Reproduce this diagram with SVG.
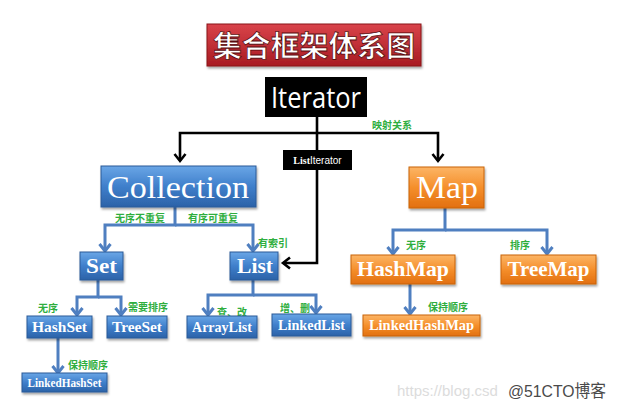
<svg xmlns="http://www.w3.org/2000/svg" width="617" height="410" viewBox="0 0 617 410">
<defs>
<linearGradient id="gBlue" x1="0" y1="0" x2="0" y2="1">
<stop offset="0" stop-color="#6aa6e6"/><stop offset="0.5" stop-color="#3f7fcb"/><stop offset="1" stop-color="#2b62a8"/>
</linearGradient>
<linearGradient id="gOrange" x1="0" y1="0" x2="0" y2="1">
<stop offset="0" stop-color="#fcb565"/><stop offset="0.5" stop-color="#f58f2c"/><stop offset="1" stop-color="#e2700f"/>
</linearGradient>
<linearGradient id="gRed" x1="0" y1="0" x2="0" y2="1">
<stop offset="0" stop-color="#d9434a"/><stop offset="1" stop-color="#a81b22"/>
</linearGradient>
<filter id="sh" x="-10%" y="-20%" width="120%" height="150%">
<feDropShadow dx="1" dy="2" stdDeviation="1.2" flood-color="#000" flood-opacity="0.35"/>
</filter>
<marker id="ak" markerUnits="userSpaceOnUse" markerWidth="14" markerHeight="14" viewBox="0 0 14 14" refX="11" refY="7" orient="auto">
<path d="M4,1.5 L11,7 L4,12.5" fill="none" stroke="#000" stroke-width="2.6"/>
</marker>
<marker id="ab" markerUnits="userSpaceOnUse" markerWidth="14" markerHeight="14" viewBox="0 0 14 14" refX="11" refY="7" orient="auto">
<path d="M4,1.5 L11,7 L4,12.5" fill="none" stroke="#4f7fc0" stroke-width="3"/>
</marker>
</defs>
<style>
.blue{fill:url(#gBlue);stroke:#2a5a98;stroke-width:1;filter:url(#sh)}
.orange{fill:url(#gOrange);stroke:#c9630c;stroke-width:1;filter:url(#sh)}
.nl{fill:#fff;font-family:"Liberation Serif","DejaVu Serif",serif;text-anchor:middle}
.b{font-weight:bold}
.g{fill:#2fae3e;font-family:"Noto Sans CJK SC",sans-serif;font-weight:bold;font-size:10px}
.kl{fill:none;stroke:#000;stroke-width:2.6}
.bl{fill:none;stroke:#4f7fc0;stroke-width:3}
</style>
<rect width="617" height="410" fill="#fff"/>

<g id="title">
<rect x="207" y="24" width="214" height="42" fill="url(#gRed)" stroke="#8a1418" filter="url(#sh)"/>
<text x="314" y="57" font-family="Noto Sans CJK SC,sans-serif" font-weight="bold" font-size="29" fill="#fff" stroke="#5a0b0e" stroke-width="0.8" text-anchor="middle" textLength="202" lengthAdjust="spacingAndGlyphs">集合框架体系图</text>
</g>

<g id="connectors">
<path class="kl" d="M317,117 V263 H283" marker-end="url(#ak)"/>
<path class="kl" d="M317,133 H180 V161" marker-end="url(#ak)"/>
<path class="kl" d="M317,133 H438 V161" marker-end="url(#ak)"/>
<path class="bl" d="M175,207 V225 H105 V251" marker-end="url(#ab)"/>
<path class="bl" d="M175,225 H253 V251" marker-end="url(#ab)"/>
<path class="bl" d="M98,280 V297 H77 V315" marker-end="url(#ab)"/>
<path class="bl" d="M98,297 H121 V315" marker-end="url(#ab)"/>
<path class="bl" d="M58,338 V373" marker-end="url(#ab)"/>
<path class="bl" d="M253,280 V295 H208 V315" marker-end="url(#ab)"/>
<path class="bl" d="M253,295 H316 V313" marker-end="url(#ab)"/>
<path class="bl" d="M445,208 V230 H393 V254" marker-end="url(#ab)"/>
<path class="bl" d="M445,230 H547 V254" marker-end="url(#ab)"/>
<path class="bl" d="M410,284 V314" marker-end="url(#ab)"/>
<text class="g" x="372" y="129">映射关系</text>
<text class="g" x="115" y="222">无序不重复</text>
<text class="g" x="188" y="222">有序可重复</text>
<text class="g" x="258" y="247">有索引</text>
<text class="g" x="38" y="312">无序</text>
<text class="g" x="128" y="311">需要排序</text>
<text class="g" x="68" y="369">保持顺序</text>
<text class="g" x="217" y="316">查、改</text>
<text class="g" x="280" y="312">增、删</text>
<text class="g" x="406" y="249">无序</text>
<text class="g" x="510" y="249">排序</text>
<text class="g" x="428" y="311">保持顺序</text>
</g>

<g id="iterator">
<rect x="265" y="77" width="102" height="40" fill="#000"/>
<text x="316" y="108" font-family="Open Sans,Liberation Sans,sans-serif" font-size="29" fill="#fff" text-anchor="middle" textLength="90" lengthAdjust="spacingAndGlyphs">Iterator</text>
</g>

<g id="listiterator">
<rect x="283" y="150" width="69" height="20" fill="#000"/>
<text x="317.5" y="164" font-size="10" fill="#fff" text-anchor="middle" font-family="Liberation Sans,sans-serif"><tspan font-family="Liberation Serif,serif" font-weight="bold">List</tspan>Iterator</text>
</g>

<g id="collection">
<rect class="blue" x="101" y="166" width="155" height="41"/>
<text class="nl" x="178" y="198" font-size="32" textLength="142" lengthAdjust="spacingAndGlyphs">Collection</text>
</g>

<g id="map">
<rect class="orange" x="409" y="167" width="75" height="41"/>
<text class="nl" x="447" y="198" font-size="32" textLength="62" lengthAdjust="spacingAndGlyphs">Map</text>
</g>

<g id="set">
<rect class="blue" x="80" y="252" width="43" height="28"/>
<text class="nl b" x="101.5" y="273" font-size="22" textLength="31" lengthAdjust="spacingAndGlyphs">Set</text>
</g>

<g id="list">
<rect class="blue" x="230" y="252" width="48" height="28"/>
<text class="nl b" x="255" y="273" font-size="22" textLength="36" lengthAdjust="spacingAndGlyphs">List</text>
</g>

<g id="hashset">
<rect class="blue" x="27" y="316" width="65" height="22"/>
<text class="nl b" x="59.5" y="332" font-size="15" textLength="55" lengthAdjust="spacingAndGlyphs">HashSet</text>
</g>

<g id="treeset">
<rect class="blue" x="107" y="316" width="60" height="22"/>
<text class="nl b" x="137" y="332" font-size="15" textLength="50" lengthAdjust="spacingAndGlyphs">TreeSet</text>
</g>

<g id="linkedhashset">
<rect class="blue" x="22" y="373" width="85" height="19"/>
<text class="nl b" x="64.5" y="387" font-size="12" textLength="74" lengthAdjust="spacingAndGlyphs">LinkedHashSet</text>
</g>

<g id="arraylist">
<rect class="blue" x="187" y="316" width="70" height="22"/>
<text class="nl b" x="222" y="332" font-size="15" textLength="60" lengthAdjust="spacingAndGlyphs">ArrayList</text>
</g>

<g id="linkedlist">
<rect class="blue" x="272" y="314" width="79" height="22"/>
<text class="nl b" x="311.5" y="330" font-size="15" textLength="67" lengthAdjust="spacingAndGlyphs">LinkedList</text>
</g>

<g id="hashmap">
<rect class="orange" x="351" y="255" width="104" height="29"/>
<text class="nl b" x="403" y="276" font-size="22" textLength="92" lengthAdjust="spacingAndGlyphs">HashMap</text>
</g>

<g id="treemap">
<rect class="orange" x="501" y="255" width="95" height="29"/>
<text class="nl b" x="548.5" y="276" font-size="22" textLength="82" lengthAdjust="spacingAndGlyphs">TreeMap</text>
</g>

<g id="linkedhashmap">
<rect class="orange" x="363" y="315" width="117" height="21"/>
<text class="nl b" x="421.5" y="330" font-size="14" textLength="105" lengthAdjust="spacingAndGlyphs">LinkedHashMap</text>
</g>

<g id="watermark">
<text x="397" y="396" font-family="Liberation Sans,sans-serif" font-size="15" fill="#dcdcdc">https://blog.csd</text>
<text x="508" y="397" font-family="Liberation Sans,Noto Sans CJK SC,sans-serif" font-size="17" fill="#4a4a4a" textLength="98" lengthAdjust="spacingAndGlyphs">@51CTO博客</text>
</g>
</svg>
